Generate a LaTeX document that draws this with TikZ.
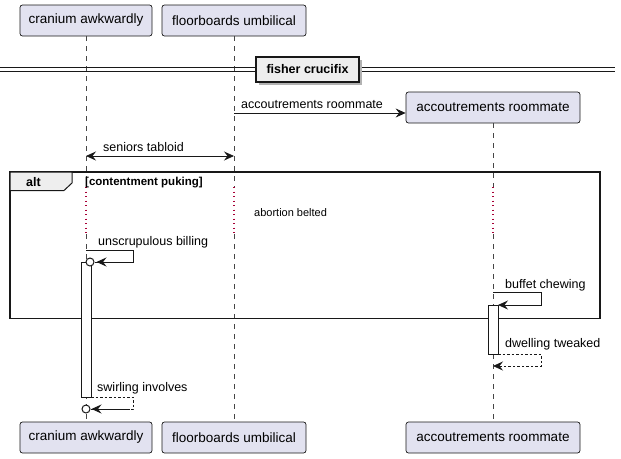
\documentclass[tikz,border=0pt]{standalone}
\usepackage{fontspec}
\setmainfont{Liberation Sans}
\usetikzlibrary{arrows.meta}
\definecolor{partfill}{HTML}{E2E2F0}
\definecolor{ink}{HTML}{181818}
\definecolor{delayc}{HTML}{A80036}
\definecolor{tabfill}{HTML}{EEEEEE}
\tikzset{
  part/.style={draw=ink, fill=partfill, rounded corners=2.5pt, line width=0.7pt, minimum height=31pt, inner sep=0pt, font=\fontsize{13.5}{15}\selectfont},
  life/.style={draw=ink!80, dash pattern=on 5pt off 5pt, line width=0.6pt},
  delayline/.style={draw=delayc, dash pattern=on 1.3pt off 3.2pt, line width=1.1pt},
  msg/.style={draw=ink, line width=0.8pt},
  rmsg/.style={draw=ink, line width=0.8pt, dash pattern=on 2.5pt off 2pt},
  tip/.style={-{Stealth[length=10pt,width=9pt,inset=3.5pt]}},
  lbl/.style={font=\fontsize{12.5}{14}\selectfont, inner sep=0pt, anchor=base west},
  actbar/.style={draw=ink, fill=white, line width=0.8pt},
  circ/.style={draw=ink, fill=white, line width=1pt, circle, minimum size=8pt, inner sep=0pt},
}
\begin{document}
\begin{tikzpicture}[x=1pt,y=-1pt]
\useasboundingbox (0,0) rectangle (621,458);
% participants
\node[part, minimum width=132pt] (caT) at (86,20.5) {cranium awkwardly};
\node[part, minimum width=144pt] (fuT) at (234,20.5) {floorboards umbilical};
\node[part, minimum width=174pt] (arT) at (493,107.5) {accoutrements roommate};
\node[part, minimum width=132pt] (caB) at (86,437.5) {cranium awkwardly};
\node[part, minimum width=144pt] (fuB) at (234,437.5) {floorboards umbilical};
\node[part, minimum width=174pt] (arB) at (493,437.5) {accoutrements roommate};
% lifelines
\coordinate (ca1) at (86,187); \coordinate (ca2) at (86,234);
\coordinate (fu1) at (234,187); \coordinate (fu2) at (234,234);
\coordinate (ar1) at (493,187); \coordinate (ar2) at (493,234);
\draw[life] (caT.south) -- (ca1); \draw[delayline] (ca1) -- (ca2); \draw[life] (ca2) -- (caB.north);
\draw[life] (fuT.south) -- (fu1); \draw[delayline] (fu1) -- (fu2); \draw[life] (fu2) -- (fuB.north);
\draw[life] (arT.south) -- (ar1); \draw[delayline] (ar1) -- (ar2); \draw[life] (ar2) -- (arB.north);
% divider
\draw[ink, line width=0.9pt] (0,67.5) -- (615,67.5);
\draw[ink, line width=0.9pt] (0,71) -- (615,71);
\fill[gray!60] (259,60) rectangle (362,85);
\node[draw=ink, fill=tabfill, line width=1.5pt, minimum width=103pt, minimum height=25pt, inner sep=0pt, font=\bfseries\fontsize{12.5}{14}\selectfont] (div) at (307.5,69.5) {fisher crucifix};
% message 1
\coordinate (m1s) at (234,113);
\draw[msg, tip] (m1s) -- (arT.west |- m1s);
\node[lbl] (l1) at (241,108) {accoutrements roommate};
% message 2
\coordinate (m2a) at (86,156); \coordinate (m2b) at (234,156);
\draw[msg, {Stealth[length=10pt,width=9pt,inset=3.5pt]}-{Stealth[length=10pt,width=9pt,inset=3.5pt]}] (m2a) -- (m2b);
\node[lbl] (l2) at (103,151) {seniors tabloid};
% alt frame
\draw[ink, line width=1.4pt] (10,172) rectangle (600,318.5);
\draw[ink, fill=tabfill, line width=1pt] (10,172) -- (72,172) -- (72,183) -- (64,190.5) -- (10,190.5) -- cycle;
\node[font=\bfseries\fontsize{12.5}{14}\selectfont, inner sep=0pt, anchor=base west] (alt) at (26,186) {alt};
\node[font=\bfseries\fontsize{11.5}{13}\selectfont, inner sep=0pt, anchor=base west] (cond) at (85,185) {[contentment puking]};
\node[font=\fontsize{11}{13}\selectfont, inner sep=0pt, anchor=base west] (delay) at (254,216) {abortion belted};
% activation bars
\draw[actbar] (81,262) rectangle (91,397);
\draw[actbar] (488,305) rectangle (498,354);
% unscrupulous billing
\coordinate (u0) at (86,250); \coordinate (u1) at (133,250); \coordinate (u2) at (133,262);
\node[circ] (uc) at (90,262) {};
\draw[msg] (u0) -- (u1) -- (u2) -- (uc.east);
\draw[msg, tip] (u2) -- ([xshift=2pt]uc.east);
\node[lbl] (l3) at (98,245) {unscrupulous billing};
% buffet chewing
\coordinate (b0) at (493,292); \coordinate (b1) at (541,292); \coordinate (b2) at (541,305); \coordinate (b3) at (498,305);
\draw[msg, tip] (b0) -- (b1) -- (b2) -- (b3);
\node[lbl] (l4) at (505,288) {buffet chewing};
% dwelling tweaked
\coordinate (d0) at (498,354); \coordinate (d1) at (541,354); \coordinate (d2) at (541,366); \coordinate (d3) at (493,366);
\draw[rmsg, tip] (d0) -- (d1) -- (d2) -- (d3);
\node[lbl] (l5) at (505,347) {dwelling tweaked};
% swirling involves
\coordinate (s0) at (91,397); \coordinate (s1) at (133,397); \coordinate (s2) at (133,409);
\node[circ] (sc) at (86,409) {};
\draw[rmsg] (s0) -- (s1) -- (s2) -- (sc.east);
\draw[msg, tip] ([xshift=-3pt]s2) -- ([xshift=1pt]sc.east);
\node[lbl] (l6) at (97,391) {swirling involves};
\end{tikzpicture}
\end{document}
